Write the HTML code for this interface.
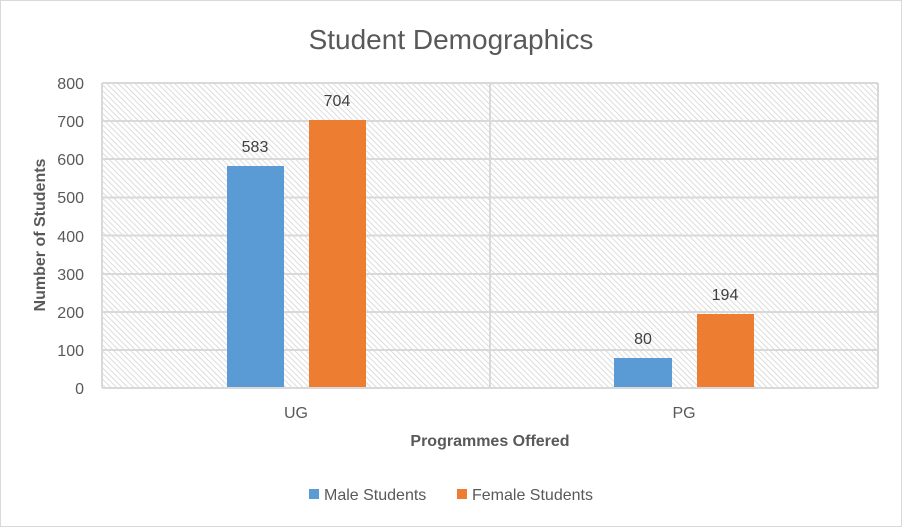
<!DOCTYPE html>
<html><head><style>
body{margin:0;background:#fff;}
svg{display:block;font-family:"Liberation Sans",Calibri,sans-serif;}
</style></head><body>
<svg width="902" height="527" xmlns="http://www.w3.org/2000/svg">
<defs>
<pattern id="h" width="4" height="4" patternUnits="userSpaceOnUse" patternTransform="rotate(-45)">
<rect width="4" height="4" fill="#fff"/>
<line x1="0" y1="0" x2="0" y2="4" stroke="#d4d4d4" stroke-width="1.6"/>
</pattern>
</defs>
<rect x="0.5" y="0.5" width="901" height="526" fill="#fff" stroke="#d9d9d9"/>
<text x="451" y="49" text-anchor="middle" font-size="28" fill="#595959">Student Demographics</text>
<rect x="102" y="83" width="776" height="305" fill="url(#h)"/>
<g stroke="#d9d9d9" stroke-width="2">
<line x1="102" y1="83" x2="878" y2="83"/>
<line x1="102" y1="121" x2="878" y2="121"/>
<line x1="102" y1="159" x2="878" y2="159"/>
<line x1="102" y1="197.5" x2="878" y2="197.5"/>
<line x1="102" y1="235.5" x2="878" y2="235.5"/>
<line x1="102" y1="274" x2="878" y2="274"/>
<line x1="102" y1="312" x2="878" y2="312"/>
<line x1="102" y1="350" x2="878" y2="350"/>
<line x1="102" y1="83" x2="102" y2="388"/>
<line x1="490" y1="83" x2="490" y2="388"/>
<line x1="878" y1="83" x2="878" y2="388"/>
</g>
<rect x="227" y="166" width="57" height="222" fill="#5b9bd5"/>
<rect x="309" y="120" width="57" height="268" fill="#ed7d31"/>
<rect x="614" y="358" width="58" height="30" fill="#5b9bd5"/>
<rect x="697" y="314" width="57" height="74" fill="#ed7d31"/>
<line x1="102" y1="388" x2="878" y2="388" stroke="#d9d9d9" stroke-width="2"/>
<g font-size="16" fill="#404040" text-anchor="middle">
<text x="255" y="152">583</text>
<text x="337" y="106">704</text>
<text x="643" y="344">80</text>
<text x="725" y="300">194</text>
</g>
<g font-size="16" fill="#595959" text-anchor="end">
<text x="84" y="89">800</text>
<text x="84" y="127">700</text>
<text x="84" y="165">600</text>
<text x="84" y="203">500</text>
<text x="84" y="242">400</text>
<text x="84" y="280">300</text>
<text x="84" y="318">200</text>
<text x="84" y="356">100</text>
<text x="84" y="394">0</text>
</g>
<g font-size="16" fill="#595959" text-anchor="middle">
<text x="296" y="418">UG</text>
<text x="684" y="418">PG</text>
</g>
<text x="490" y="446" text-anchor="middle" font-size="16" font-weight="bold" fill="#595959">Programmes Offered</text>
<text transform="translate(45,235) rotate(-90)" text-anchor="middle" font-size="16" font-weight="bold" fill="#595959">Number of Students</text>
<rect x="309" y="489" width="10" height="10" fill="#5b9bd5"/>
<text x="324" y="500" font-size="16" fill="#595959">Male Students</text>
<rect x="457" y="489" width="10" height="10" fill="#ed7d31"/>
<text x="472" y="500" font-size="16" fill="#595959">Female Students</text>
</svg>
</body></html>
